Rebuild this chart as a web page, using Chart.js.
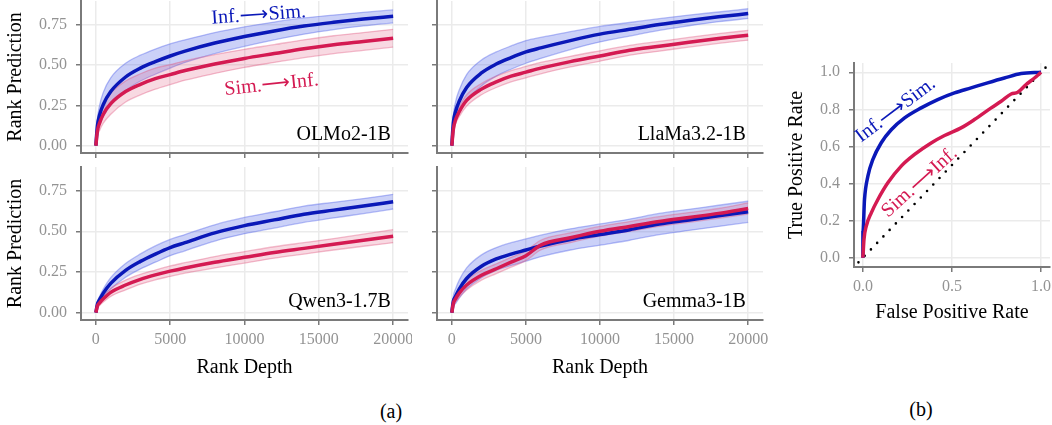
<!DOCTYPE html>
<html>
<head>
<meta charset="utf-8">
<script src="https://cdn.jsdelivr.net/npm/chart.js@4"></script>
<style>
    body { margin: 0; background: #fff; width: 1052px; height: 425px; position: relative; overflow: hidden; font-family: "Liberation Serif", serif; }
    .panel { position: absolute; }
    .cap { position: absolute; font-size: 20px; transform: translate(-50%, -50%); }
</style>
</head>
<body>
<div class="panel" style="left:0;top:0;width:412px;height:162px"><canvas id="olmo"></canvas></div>
<div class="panel" style="left:356px;top:0;width:414px;height:162px"><canvas id="llama"></canvas></div>
<div class="panel" style="left:0;top:164px;width:412px;height:221px"><canvas id="qwen"></canvas></div>
<div class="panel" style="left:356px;top:164px;width:414px;height:221px"><canvas id="gemma"></canvas></div>
<div class="panel" style="left:770px;top:50px;width:282px;height:285px"><canvas id="roc"></canvas></div>
<div class="cap" style="left:391px;top:411px">(a)</div>
<div class="cap" style="left:921px;top:409px">(b)</div>
<script>
// rank depth sample points
const depths = [0, 100, 250, 500, 1000, 2000, 3000, 4000, 5000, 6000, 8000, 10000, 12000, 14000, 16000, 18000, 20000];
const depthTicks = [0, 5000, 10000, 15000, 20000];
const predTicks = [0, 0.25, 0.5, 0.75];

// OLMo2-1B
const olmoInfSim = [0, 0.12, 0.19, 0.255, 0.335, 0.425, 0.48, 0.52, 0.555, 0.585, 0.635, 0.675, 0.71, 0.74, 0.763, 0.783, 0.80];
const olmoInfSimStd = [0, 0.04, 0.06, 0.075, 0.085, 0.085, 0.08, 0.078, 0.075, 0.07, 0.065, 0.06, 0.055, 0.05, 0.045, 0.042, 0.04];
const olmoSimInf = [0, 0.09, 0.14, 0.195, 0.26, 0.335, 0.38, 0.415, 0.44, 0.465, 0.505, 0.54, 0.57, 0.60, 0.625, 0.645, 0.665];
const olmoSimInfStd = [0, 0.03, 0.045, 0.055, 0.065, 0.065, 0.065, 0.065, 0.062, 0.06, 0.058, 0.056, 0.055, 0.055, 0.055, 0.055, 0.055];

// LlaMa3.2-1B
const llamaInfSim = [0, 0.14, 0.21, 0.275, 0.36, 0.45, 0.505, 0.545, 0.58, 0.605, 0.65, 0.69, 0.72, 0.75, 0.775, 0.797, 0.817];
const llamaInfSimStd = [0, 0.04, 0.06, 0.07, 0.08, 0.08, 0.075, 0.072, 0.07, 0.065, 0.055, 0.048, 0.042, 0.036, 0.033, 0.03, 0.03];
const llamaSimInf = [0, 0.10, 0.16, 0.21, 0.28, 0.35, 0.395, 0.43, 0.455, 0.48, 0.52, 0.555, 0.59, 0.615, 0.64, 0.663, 0.683];
const llamaSimInfStd = [0, 0.02, 0.025, 0.03, 0.035, 0.035, 0.035, 0.035, 0.035, 0.035, 0.033, 0.032, 0.03, 0.03, 0.03, 0.03, 0.03];

// Qwen3-1.7B
const qwenInfSim = [0, 0.05, 0.08, 0.12, 0.18, 0.26, 0.315, 0.36, 0.40, 0.43, 0.49, 0.535, 0.57, 0.605, 0.63, 0.655, 0.682];
const qwenInfSimStd = [0, 0.015, 0.02, 0.025, 0.035, 0.042, 0.046, 0.05, 0.05, 0.05, 0.05, 0.05, 0.05, 0.05, 0.048, 0.046, 0.045];
const qwenSimInf = [0, 0.04, 0.06, 0.085, 0.125, 0.17, 0.205, 0.232, 0.255, 0.275, 0.31, 0.34, 0.37, 0.395, 0.42, 0.445, 0.47];
const qwenSimInfStd = [0, 0.012, 0.016, 0.02, 0.025, 0.03, 0.03, 0.03, 0.032, 0.032, 0.035, 0.035, 0.035, 0.035, 0.035, 0.037, 0.04];

// Gemma3-1B
const gemmaInfSim = [0, 0.07, 0.10, 0.145, 0.21, 0.285, 0.33, 0.36, 0.385, 0.41, 0.45, 0.48, 0.51, 0.545, 0.57, 0.595, 0.62];
const gemmaInfSimStd = [0, 0.03, 0.045, 0.055, 0.065, 0.07, 0.07, 0.07, 0.068, 0.066, 0.065, 0.065, 0.065, 0.065, 0.065, 0.065, 0.065];
const gemmaSimInf = [0, 0.055, 0.085, 0.12, 0.17, 0.23, 0.27, 0.31, 0.35, 0.415, 0.46, 0.50, 0.53, 0.56, 0.585, 0.61, 0.64];
const gemmaSimInfStd = [0, 0.015, 0.02, 0.025, 0.03, 0.03, 0.03, 0.03, 0.03, 0.03, 0.03, 0.03, 0.03, 0.03, 0.03, 0.03, 0.035];

// ROC curves
const rocFprInfSim = [0, 0, 0.009, 0.028, 0.056, 0.103, 0.159, 0.234, 0.327, 0.42, 0.514, 0.607, 0.70, 0.794, 0.888, 1];
const rocTprInfSim = [0, 0.135, 0.314, 0.44, 0.53, 0.62, 0.69, 0.754, 0.808, 0.853, 0.889, 0.916, 0.943, 0.969, 0.993, 1];
const rocFprSimInf = [0, 0.006, 0.019, 0.047, 0.084, 0.14, 0.215, 0.29, 0.383, 0.458, 0.551, 0.626, 0.72, 0.776, 0.832, 0.869, 0.916, 0.963, 1];
const rocTprSimInf = [0, 0.099, 0.171, 0.242, 0.314, 0.404, 0.494, 0.557, 0.619, 0.659, 0.70, 0.745, 0.808, 0.844, 0.883, 0.892, 0.934, 0.969, 1];
const rocTicksX = [0, 0.5, 1];
const rocTicksY = [0, 0.2, 0.4, 0.6, 0.8, 1];

const BLUE = "#0a18b8";
const RED = "#d41a52";
const FONT = '"Liberation Serif", serif';
const INF_SIM = "Inf.\u27F6Sim.";
const SIM_INF = "Sim.\u27F6Inf.";

Chart.defaults.font.family = FONT;
Chart.defaults.animation = false;

function notesPlugin(notes) {
    return {
        id: "notes",
        afterDatasetsDraw(chart) {
            const { ctx, scales } = chart;
            for (const n of notes) {
                ctx.save();
                ctx.translate(scales.x.getPixelForValue(n.x), scales.y.getPixelForValue(n.y));
                ctx.rotate((n.angle || 0) * Math.PI / 180);
                ctx.font = `${n.size || 20}px ${FONT}`;
                ctx.fillStyle = n.color || "#000";
                ctx.textAlign = n.align || "center";
                ctx.textBaseline = "middle";
                ctx.fillText(n.text, 0, 0);
                ctx.restore();
            }
        }
    };
}

function axis(opts) {
    return {
        type: "linear",
        min: opts.min,
        max: opts.max,
        afterBuildTicks: s => { s.ticks = opts.ticks.map(v => ({ value: v })); },
        afterFit: s => {
            if (opts.width) s.width = opts.width;
            if (opts.height) s.height = opts.height;
            // let labels overflow instead of shrinking the plot area
            s.paddingTop = s.paddingBottom = s.paddingLeft = s.paddingRight = 0;
        },
        ticks: { display: opts.labels, color: "#939393", font: { size: 16 }, padding: opts.tickPad, callback: opts.format },
        grid: { color: "#ebebeb", lineWidth: 1.5, tickLength: 5, tickColor: "#7a7a7a", tickWidth: 1.5 },
        border: { color: "#7a7a7a", width: 2 },
        title: { display: !!opts.title, text: opts.title, color: "#000", font: { size: 20 }, padding: opts.titlePad || 0 }
    };
}

function points(xs, ys) {
    return xs.map((x, i) => ({ x: x, y: ys[i] }));
}

function band(mean, std, sign) {
    return depths.map((d, i) => ({ x: d, y: mean[i] + sign * std[i] }));
}

function rankChart(id, model, infSim, infSimStd, simInf, simInfStd, showX, showY, padTop, padRight, xHeight, notes) {
    const line = { pointRadius: 0, cubicInterpolationMode: "monotone", fill: false };
    new Chart(document.getElementById(id), {
        type: "line",
        data: {
            datasets: [
                { ...line, data: band(infSim, infSimStd, 1), borderColor: "rgba(95,110,235,0.45)", borderWidth: 1.3, backgroundColor: "rgba(70,90,230,0.28)", fill: "+1", order: 3 },
                { ...line, data: band(infSim, infSimStd, -1), borderColor: "rgba(95,110,235,0.45)", borderWidth: 1.3, order: 3 },
                { ...line, data: band(simInf, simInfStd, 1), borderColor: "rgba(225,90,130,0.4)", borderWidth: 1.3, backgroundColor: "rgba(225,80,125,0.22)", fill: "+1", order: 2 },
                { ...line, data: band(simInf, simInfStd, -1), borderColor: "rgba(225,90,130,0.4)", borderWidth: 1.3, order: 2 },
                { ...line, data: points(depths, infSim), borderColor: BLUE, borderWidth: 3.5, order: 1 },
                { ...line, data: points(depths, simInf), borderColor: RED, borderWidth: 3.5, order: 0 }
            ]
        },
        options: {
            responsive: true,
            maintainAspectRatio: false,
            layout: { padding: { top: padTop, right: padRight, left: 0, bottom: 0 } },
            plugins: { legend: { display: false }, tooltip: { enabled: false } },
            scales: {
                x: axis({ min: -1000, max: 21000, ticks: depthTicks, labels: showX, format: v => String(v), tickPad: 5,
                    height: xHeight, title: showX ? "Rank Depth" : "", titlePad: { top: 0, bottom: 5 } }),
                y: axis({ min: -0.045, max: 0.895, ticks: predTicks, labels: showY, format: v => v.toFixed(2), tickPad: 9,
                    width: 81, title: showY ? "Rank Prediction" : "", titlePad: { top: 4, bottom: 0 } })
            }
        },
        plugins: [notesPlugin([{ text: model, x: 19850, y: 0.065, align: "right" }, ...notes])]
    });
}

rankChart("olmo", "OLMo2-1B", olmoInfSim, olmoInfSimStd, olmoSimInf, olmoSimInfStd, false, true, 1, 4, 9, [
    { text: INF_SIM, x: 10950, y: 0.807, angle: -4, color: BLUE, size: 20 },
    { text: SIM_INF, x: 11820, y: 0.376, angle: -6, color: RED, size: 20 }
]);
rankChart("llama", "LlaMa3.2-1B", llamaInfSim, llamaInfSimStd, llamaSimInf, llamaSimInfStd, false, false, 1, 7, 9, []);
rankChart("qwen", "Qwen3-1.7B", qwenInfSim, qwenInfSimStd, qwenSimInf, qwenSimInfStd, true, true, 3, 4, 65, []);
rankChart("gemma", "Gemma3-1B", gemmaInfSim, gemmaInfSimStd, gemmaSimInf, gemmaSimInfStd, true, false, 3, 7, 65, []);

new Chart(document.getElementById("roc"), {
    type: "line",
    data: {
        datasets: [
            { data: points(rocFprInfSim, rocTprInfSim), borderColor: BLUE, borderWidth: 3.5, pointRadius: 0, cubicInterpolationMode: "monotone", order: 1 },
            { data: points(rocFprSimInf, rocTprSimInf), borderColor: RED, borderWidth: 3.5, pointRadius: 0, cubicInterpolationMode: "monotone", order: 0 },
            { data: points([-0.06, 1.06], [-0.06, 1.06]), borderColor: "#000", borderWidth: 2.6, borderDash: [0, 9], borderCapStyle: "round", pointRadius: 0, order: 2 }
        ]
    },
    options: {
        responsive: true,
        maintainAspectRatio: false,
        layout: { padding: { top: 13, right: 2, left: 0, bottom: 0 } },
        plugins: { legend: { display: false }, tooltip: { enabled: false } },
        scales: {
            x: axis({ min: -0.05, max: 1.05, ticks: rocTicksX, labels: true, format: v => v.toFixed(1), tickPad: 5,
                height: 68, title: "False Positive Rate", titlePad: { top: 0, bottom: 10 } }),
            y: axis({ min: -0.05, max: 1.05, ticks: rocTicksY, labels: true, format: v => v.toFixed(1), tickPad: 9,
                width: 84, title: "True Positive Rate", titlePad: { top: 15, bottom: 0 } })
        }
    },
    plugins: [notesPlugin([
        { text: INF_SIM, x: 0.184, y: 0.796, angle: -37, color: BLUE, size: 20 },
        { text: SIM_INF, x: 0.318, y: 0.406, angle: -42, color: RED, size: 20 }
    ])]
});
</script>
</body>
</html>
